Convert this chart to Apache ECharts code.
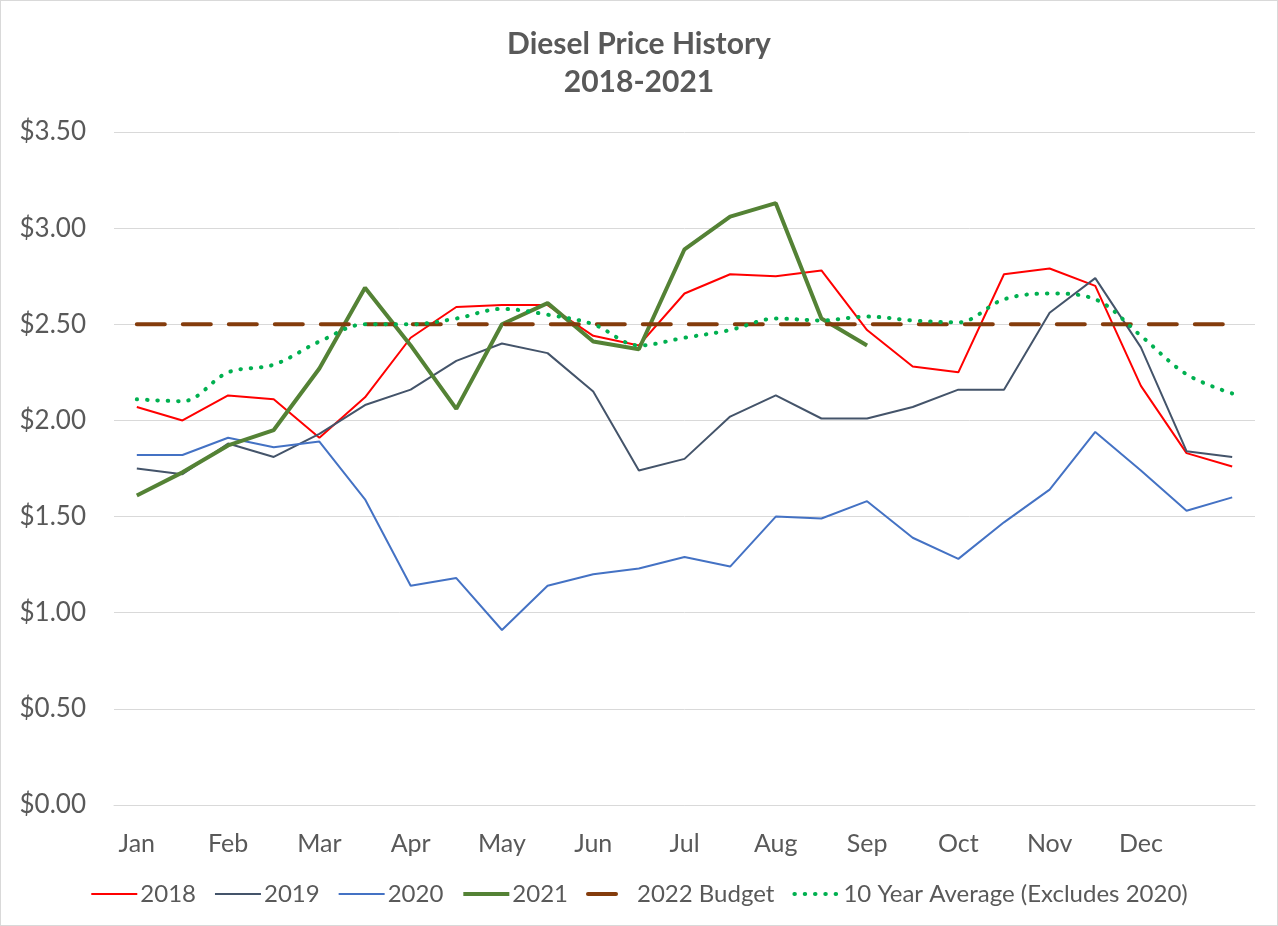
<!DOCTYPE html>
<html lang="en">
<head>
    <meta charset="UTF-8">
    <title>Diesel Price History</title>
    <script src="https://cdn.jsdelivr.net/npm/echarts@6/dist/echarts.min.js"></script>
    <style type="text/css">
        html, body {
          height: 100%;
          margin: 0;
          background: #ffffff;
        }
        #main {
          position: absolute;
          left: 0; top: 0;
          width: 1276px;
          height: 924px;
          border: 1px solid #d9d9d9;
        }
    </style>
</head>
<body>
    <div id="main"></div>
    <script type="text/javascript">
        // 月份标签 (每月两个点, 共25个点, 只在每月第一个点显示)
        var months = ['Jan', 'Feb', 'Mar', 'Apr', 'May', 'Jun', 'Jul', 'Aug', 'Sep', 'Oct', 'Nov', 'Dec'];
        var categories = [];
        for (var m = 0; m < 25; m++) {
            categories.push(m % 2 === 0 && m < 24 ? months[m / 2] : 'p' + m);
        }

        // 数据
        var y2018 = [2.07, 2.00, 2.13, 2.11, 1.91, 2.12, 2.43, 2.59, 2.60, 2.60, 2.44, 2.39, 2.66,
                     2.76, 2.75, 2.78, 2.47, 2.28, 2.25, 2.76, 2.79, 2.70, 2.18, 1.83, 1.76];
        var y2019 = [1.75, 1.72, 1.88, 1.81, 1.93, 2.08, 2.16, 2.31, 2.40, 2.35, 2.15, 1.74, 1.80,
                     2.02, 2.13, 2.01, 2.01, 2.07, 2.16, 2.16, 2.56, 2.74, 2.38, 1.84, 1.81];
        var y2020 = [1.82, 1.82, 1.91, 1.86, 1.89, 1.59, 1.14, 1.18, 0.91, 1.14, 1.20, 1.23, 1.29,
                     1.24, 1.50, 1.49, 1.58, 1.39, 1.28, 1.47, 1.64, 1.94, 1.74, 1.53, 1.60];
        var y2021 = [1.61, 1.73, 1.87, 1.95, 2.27, 2.69, 2.39, 2.06, 2.50, 2.61, 2.41, 2.37, 2.89,
                     3.06, 3.13, 2.53, 2.39];
        var budget2022 = [2.50, 2.50, 2.50, 2.50, 2.50, 2.50, 2.50, 2.50, 2.50, 2.50, 2.50, 2.50, 2.50,
                          2.50, 2.50, 2.50, 2.50, 2.50, 2.50, 2.50, 2.50, 2.50, 2.50, 2.50, 2.50];
        var tenYearAvg = [2.11, 2.10, 2.25, 2.29, 2.41, 2.50, 2.50, 2.53, 2.58, 2.55, 2.50, 2.39, 2.43,
                          2.47, 2.53, 2.52, 2.54, 2.52, 2.51, 2.63, 2.66, 2.63, 2.44, 2.24, 2.14];

        var textColor = '#595959';
        var fontFam = 'Lato, "Open Sans", sans-serif';

        var chart = echarts.init(document.getElementById('main'));

        function line(name, data, color, width, type, smooth) {
            return {
                name: name,
                type: 'line',
                data: data,
                symbol: 'none',
                smooth: smooth || false,
                animation: false,
                lineStyle: { color: color, width: width, type: type || 'solid', cap: type ? 'round' : 'butt' },
                itemStyle: { color: color }
            };
        }

        var option = {
            animation: false,
            textStyle: { fontFamily: fontFam },
            title: {
                text: 'Diesel Price History\n2018-2021',
                left: 'center',
                top: 19,
                textStyle: {
                    fontFamily: fontFam,
                    fontSize: 30,
                    fontWeight: 'bold',
                    color: textColor,
                    lineHeight: 38
                }
            },
            grid: { left: 113, right: 22, top: 131, bottom: 120 },
            legend: {
                bottom: 14,
                left: 'center',
                itemWidth: 46,
                itemHeight: 12,
                itemGap: 18,
                itemStyle: { opacity: 0 },
                lineStyle: { width: 'inherit', type: 'inherit', cap: 'inherit' },
                textStyle: { fontFamily: fontFam, fontSize: 24, color: textColor, padding: [0, 0, 0, -2] },
                data: ['2018', '2019', '2020', '2021', '2022 Budget', '10 Year Average (Excludes 2020)']
            },
            xAxis: {
                type: 'category',
                data: categories,
                boundaryGap: true,
                axisTick: { show: false },
                axisLine: { lineStyle: { color: '#d9d9d9', width: 1 } },
                axisLabel: {
                    interval: 1,
                    margin: 26,
                    fontSize: 25,
                    color: textColor,
                    fontFamily: fontFam,
                    formatter: function (v) { return v.charAt(0) === 'p' ? '' : v; }
                }
            },
            yAxis: {
                type: 'value',
                min: 0,
                max: 3.5,
                interval: 0.5,
                axisLine: { show: false },
                axisTick: { show: false },
                splitLine: { lineStyle: { color: '#d9d9d9', width: 1 } },
                axisLabel: {
                    margin: 28,
                    fontSize: 26,
                    color: textColor,
                    fontFamily: fontFam,
                    formatter: function (v) { return '$' + v.toFixed(2); }
                }
            },
            series: [
                line('2018', y2018, '#ff0000', 2),
                line('2019', y2019, '#44546a', 2),
                line('2020', y2020, '#4472c4', 2),
                line('2021', y2021, '#548235', 4),
                line('2022 Budget', budget2022, '#843c0c', 4, [28, 18]),
                line('10 Year Average (Excludes 2020)', tenYearAvg, '#00b050', 4, [0.5, 9.8], 0.35)
            ]
        };

        chart.setOption(option);
    </script>
</body>
</html>
